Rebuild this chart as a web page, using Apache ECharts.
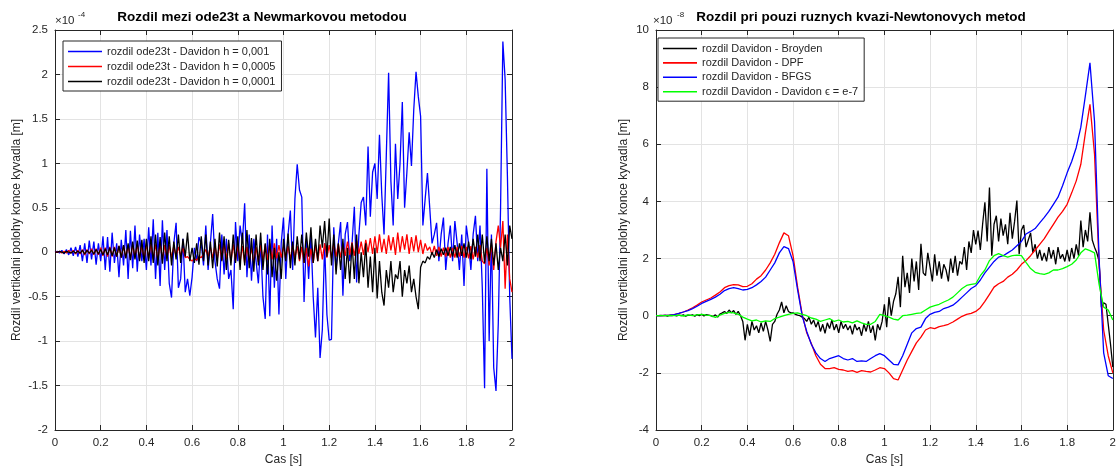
<!DOCTYPE html>
<html>
<head>
<meta charset="utf-8">
<script src="https://cdn.jsdelivr.net/npm/echarts@6/dist/echarts.min.js"></script>
<style>html,body{margin:0;padding:0;background:#fff}#c{width:1119px;height:468px}</style>
</head>
<body>
<div id="c"></div>
<script>
// time axes
const tFine = [0,0.01,0.02,0.03,0.04,0.05,0.06,0.07,0.08,0.09,0.1,0.11,0.12,0.13,0.14,0.15,0.16,0.17,0.18,0.19,0.2,0.21,0.22,0.23,0.24,0.25,0.26,0.27,0.28,0.29,0.3,0.31,0.32,0.33,0.34,0.35,0.36,0.37,0.38,0.39,0.4,0.41,0.42,0.43,0.44,0.45,0.46,0.47,0.48,0.49,0.5,0.51,0.52,0.53,0.54,0.55,0.56,0.57,0.58,0.59,0.6,0.61,0.62,0.63,0.64,0.65,0.66,0.67,0.68,0.69,0.7,0.71,0.72,0.73,0.74,0.75,0.76,0.77,0.78,0.79,0.8,0.81,0.82,0.83,0.84,0.85,0.86,0.87,0.88,0.89,0.9,0.91,0.92,0.93,0.94,0.95,0.96,0.97,0.98,0.99,1,1.01,1.02,1.03,1.04,1.05,1.06,1.07,1.08,1.09,1.1,1.11,1.12,1.13,1.14,1.15,1.16,1.17,1.18,1.19,1.2,1.21,1.22,1.23,1.24,1.25,1.26,1.27,1.28,1.29,1.3,1.31,1.32,1.33,1.34,1.35,1.36,1.37,1.38,1.39,1.4,1.41,1.42,1.43,1.44,1.45,1.46,1.47,1.48,1.49,1.5,1.51,1.52,1.53,1.54,1.55,1.56,1.57,1.58,1.59,1.6,1.61,1.62,1.63,1.64,1.65,1.66,1.67,1.68,1.69,1.7,1.71,1.72,1.73,1.74,1.75,1.76,1.77,1.78,1.79,1.8,1.81,1.82,1.83,1.84,1.85,1.86,1.87,1.88,1.89,1.9,1.91,1.92,1.93,1.94,1.95,1.96,1.97,1.98,1.99,2];
const tCoarse = [0,0.02,0.04,0.06,0.08,0.1,0.12,0.14,0.16,0.18,0.2,0.22,0.24,0.26,0.28,0.3,0.32,0.34,0.36,0.38,0.4,0.42,0.44,0.46,0.48,0.5,0.52,0.54,0.56,0.58,0.6,0.62,0.64,0.66,0.68,0.7,0.72,0.74,0.76,0.78,0.8,0.82,0.84,0.86,0.88,0.9,0.92,0.94,0.96,0.98,1,1.02,1.04,1.06,1.08,1.1,1.12,1.14,1.16,1.18,1.2,1.22,1.24,1.26,1.28,1.3,1.32,1.34,1.36,1.38,1.4,1.42,1.44,1.46,1.48,1.5,1.52,1.54,1.56,1.58,1.6,1.62,1.64,1.66,1.68,1.7,1.72,1.74,1.76,1.78,1.8,1.82,1.84,1.86,1.88,1.9,1.92,1.94,1.96,1.98,2];

// left chart (x1e-4)
const leftBlue = [
0,0.01,-0.01,0.02,-0.02,0.03,-0.03,0.05,-0.04,0.06,
-0.05,0.08,-0.1,0.1,-0.12,0.13,-0.08,0.12,-0.14,0.1,
-0.1,0.18,-0.2,0.17,-0.22,0.22,-0.12,0.1,-0.28,0.14,
-0.15,0.25,-0.3,0.24,-0.18,0.3,-0.22,0.2,-0.1,0.15,
-0.2,0.28,-0.15,0.37,-0.3,0.22,-0.38,0.36,-0.2,0.25,
-0.35,-0.51,0.1,0.33,-0.4,-0.3,0.15,-0.45,-0.3,-0.49,
-0.28,0.05,-0.1,0.17,0.1,-0.15,0.3,-0.2,0.1,0.43,
-0.1,-0.3,-0.41,0.2,-0.25,0.15,-0.3,-0.2,-0.64,0.34,
-0.1,0.3,0.1,0.55,-0.28,0.2,-0.32,0.15,-0.1,-0.35,
0.1,-0.5,-0.75,0.2,-0.72,0.3,-0.4,0.15,-0.7,0.1,
0.39,-0.3,0.2,0.47,-0.2,0.6,0.99,0.7,0.62,-0.56,
0.15,-0.3,0.2,-0.5,-0.96,-0.4,-1.19,-0.87,0.1,-0.7,
-0.99,-0.98,0.28,-0.2,0.1,0.34,-0.49,0.2,0.34,-0.1,
0.1,0.51,-0.34,0.2,0.56,0.62,0.3,1.19,0.4,0.9,
1.0,0.6,1.32,0.65,0.2,1.1,2.02,0.8,0.3,1.22,
0.6,1.0,1.69,0.5,0.9,1.35,0.97,1.6,2.03,1.75,
1.53,0.3,0.6,0.89,0.5,0.1,0.2,0.33,-0.1,0.2,
0.39,-0.2,0.1,0.3,-0.1,0.35,0.1,-0.2,0.2,-0.38,
0.3,0.1,-0.2,0.2,0.41,-0.1,0.3,-0.4,-1.53,0.94,
-1.0,0.2,-1.3,-1.56,-0.8,0.5,2.37,1.94,0.85,-0.5,
-1.2];
const leftRed = [
0,0,0.01,-0.01,0.01,-0.01,0.02,-0.01,0.02,-0.02,
0.02,-0.02,0.03,-0.03,0.03,-0.02,0.04,-0.03,0.04,-0.03,
0.05,-0.04,0.05,-0.05,0.06,-0.05,0.06,-0.05,0.07,-0.06,
0.07,-0.06,0.08,-0.07,0.08,-0.06,0.09,-0.07,0.08,-0.08,
0.09,-0.07,0.1,-0.08,0.09,-0.09,0.1,-0.08,0.08,-0.07,
0.08,-0.06,0.07,-0.05,0.06,-0.04,0.05,-0.06,-0.05,-0.08,
-0.1,-0.07,-0.09,-0.05,-0.06,-0.02,0.03,-0.05,0.06,-0.07,
0.08,-0.08,0.09,-0.09,0.1,-0.08,0.1,-0.1,0.09,-0.1,
0.08,-0.11,0.07,-0.12,0.06,-0.1,0.05,-0.12,0.06,-0.11,
0.08,-0.1,0.09,-0.09,0.1,-0.08,0.1,-0.07,0.08,-0.06,
0.06,-0.07,0.07,-0.08,0.08,-0.06,0.07,-0.1,0.06,-0.12,
0.05,-0.16,0.04,-0.12,0.08,-0.1,0.09,-0.08,0.1,-0.06,
0.08,-0.07,0.1,-0.05,0.09,-0.06,0.1,-0.04,0.12,-0.03,
0.11,-0.04,0.13,-0.02,0.12,-0.03,0.14,0.0,0.16,-0.02,
0.18,-0.01,0.2,0.0,0.15,-0.02,0.19,0.02,0.17,-0.03,
0.22,0.0,0.18,0.03,0.2,-0.02,0.17,0.01,0.19,0.0,
0.14,-0.02,0.1,0.02,0.06,-0.03,0.07,-0.04,0.06,-0.05,
0.05,-0.05,0.06,-0.06,0.05,-0.06,0.06,-0.05,0.07,-0.06,
0.06,-0.07,0.07,-0.08,0.06,-0.06,0.08,-0.1,-0.13,0.05,
-0.15,0.1,-0.2,0.12,0.3,0.05,0.35,-0.41,0.2,-0.3,
-0.45];
const leftBlack = [
0,0,0.01,0,-0.01,0.01,0,-0.01,0.01,-0.01,
0.01,-0.01,0.02,-0.02,0.02,-0.01,0.02,-0.02,0.03,-0.02,
0.03,-0.03,0.04,-0.03,0.05,-0.04,0.05,-0.05,0.07,-0.06,
0.08,-0.07,0.1,-0.09,0.12,-0.08,0.13,-0.1,0.14,-0.12,
0.15,-0.1,0.18,-0.12,0.2,-0.15,0.17,-0.13,0.22,-0.1,
0.18,-0.15,0.12,-0.08,0.2,-0.12,0.15,-0.05,0.22,-0.1,
0.05,-0.12,0.1,-0.14,0.18,-0.1,0.2,-0.15,0.12,-0.18,
0.15,-0.16,0.22,-0.1,0.18,-0.2,0.14,-0.15,0.2,-0.12,
0.18,-0.2,0.22,-0.15,0.25,-0.18,0.16,-0.22,0.2,-0.15,
0.22,-0.2,0.1,-0.25,0.15,-0.28,0.05,-0.32,0.0,-0.3,
0.15,-0.1,0.21,-0.18,0.12,-0.15,0.18,-0.08,0.2,-0.12,
0.22,-0.05,0.28,-0.12,0.15,-0.1,0.3,0.05,0.35,-0.05,
0.38,-0.15,0.2,-0.25,0.1,-0.2,0.15,-0.3,0.05,-0.35,
0.1,-0.3,0.2,-0.35,0.0,-0.28,0.1,-0.4,-0.05,-0.45,
0.05,-0.52,-0.1,-0.45,-0.6,-0.2,-0.4,-0.1,-0.45,-0.25,
-0.3,-0.1,-0.5,-0.2,-0.35,-0.15,-0.45,-0.3,-0.5,-0.64,
-0.17,-0.1,-0.12,-0.05,-0.08,0.0,-0.06,0.03,-0.05,0.04,
-0.03,0.05,-0.04,0.06,-0.05,0.08,-0.06,0.1,-0.04,0.1,
-0.06,0.12,-0.08,0.15,-0.05,0.2,-0.1,0.2,-0.12,0.18,
-0.1,0.15,-0.15,0.1,-0.2,0.05,-0.1,0.2,-0.15,0.3,
0.15];

// right chart (x1e-8)
const rightBroyden = [
0,0,0.01,0,0.01,-0.01,0.01,0,0.02,-0.01,
0.02,0,0.03,-0.02,0.02,0.01,0.03,-0.02,0.04,0.0,
0.05,-0.01,0.04,0.02,0.0,-0.03,0.03,-0.05,0.06,0.1,
0.15,0.08,0.2,0.1,0.18,0.05,0.15,0.0,-0.2,-0.86,
-0.3,-0.7,-0.2,-0.5,-0.35,-0.6,-0.25,-0.55,-0.2,-0.5,
-0.9,-0.3,-0.2,0.05,0.2,0.48,0.1,0.35,0.15,0.1,
0.1,0.05,0.02,0.0,-0.05,-0.1,-0.2,-0.05,-0.3,-0.15,
-0.4,-0.2,-0.55,-0.3,-0.62,-0.25,-0.45,-0.15,-0.5,-0.3,
-0.6,-0.2,-0.45,-0.3,-0.5,-0.35,-0.65,-0.3,-0.5,-0.4,
-0.7,-0.3,-0.55,-0.2,-0.6,-0.35,-0.86,-0.3,-0.5,-0.2,
0.4,-0.4,0.65,0.0,0.5,0.77,1.36,0.3,2.1,1.0,
1.5,0.8,2.0,1.2,1.9,0.9,2.52,1.5,1.4,2.2,
1.7,1.2,2.15,1.4,1.9,1.3,1.8,1.6,1.2,2.0,
1.5,2.1,1.4,1.9,1.8,2.4,1.6,2.6,2.2,3.0,
2.5,2.98,2.3,3.2,3.97,2.6,4.49,2.1,3.2,3.5,
2.6,3.4,2.8,3.2,2.5,3.6,2.7,3.3,4.03,2.15,
3.0,3.17,2.4,2.65,2.9,2.2,2.5,2.0,2.3,1.93,
2.2,1.9,2.4,2.0,2.3,1.8,2.4,2.0,2.15,1.9,
2.3,1.9,2.37,2.0,2.5,2.1,3.33,2.4,3.0,2.6,
3.62,2.65,2.4,2.2,1.9,0.3,0.45,0.4,-0.3,-1.0,
-1.8];
const rightDPF = [
0,0,0.01,0.02,0.04,0.08,0.13,0.2,0.28,0.37,
0.48,0.55,0.62,0.72,0.83,0.98,1.05,1.09,1.08,1.02,
1.03,1.12,1.28,1.4,1.6,1.85,2.15,2.55,2.9,2.8,
2.1,1.0,0.05,-0.6,-0.97,-1.4,-1.7,-1.85,-1.85,-1.82,
-1.88,-1.9,-1.95,-1.92,-1.98,-1.92,-1.95,-1.97,-1.9,-1.82,
-1.85,-2.0,-2.2,-2.25,-1.9,-1.55,-1.25,-0.95,-0.75,-0.5,
-0.42,-0.45,-0.38,-0.35,-0.3,-0.22,-0.12,-0.02,0.05,0.08,
0.15,0.28,0.5,0.75,1.0,1.12,1.2,1.35,1.45,1.6,
1.8,1.93,2.1,2.3,2.5,2.7,2.95,3.2,3.45,3.65,
3.9,4.3,4.72,5.3,6.4,7.4,5.65,1.8,-0.5,-1.4,
-2.0];
const rightBFGS = [
0,0,0.01,0.02,0.04,0.08,0.13,0.18,0.25,0.33,
0.43,0.5,0.57,0.65,0.75,0.88,0.95,0.98,0.95,0.9,
0.92,0.98,1.08,1.2,1.35,1.6,1.85,2.2,2.42,2.35,
1.9,0.9,0.0,-0.55,-1.0,-1.3,-1.5,-1.6,-1.5,-1.45,
-1.4,-1.5,-1.55,-1.5,-1.6,-1.58,-1.6,-1.5,-1.4,-1.33,
-1.4,-1.55,-1.7,-1.72,-1.4,-1.0,-0.6,-0.45,-0.4,-0.1,
0.05,0.12,0.15,0.25,0.3,0.37,0.5,0.65,0.8,0.95,
1.05,1.25,1.5,1.7,1.9,2.05,2.1,2.2,2.3,2.45,
2.6,2.86,2.95,3.05,3.25,3.44,3.65,3.9,4.15,4.55,
5.0,5.4,5.89,6.6,7.7,8.85,6.8,2.0,-1.3,-2.1,
-2.2];
const rightDavidon = [
0,0,0,0.01,0.0,0.02,-0.01,0.03,0.0,0.03,
0.05,0.02,0.0,-0.06,0.02,0.08,0.12,0.1,0.05,-0.05,
-0.12,-0.18,-0.15,-0.22,-0.18,-0.2,-0.1,-0.05,0.0,0.05,
0.08,0.1,0.05,0.0,-0.08,-0.12,-0.2,-0.15,-0.1,-0.2,
-0.15,-0.22,-0.2,-0.25,-0.18,-0.25,-0.3,-0.3,-0.2,0.05,
0.0,-0.05,-0.12,-0.15,0.0,0.02,0.05,0.08,0.1,0.2,
0.3,0.35,0.4,0.48,0.55,0.65,0.8,0.95,1.06,1.1,
1.12,1.4,1.6,1.93,2.1,2.17,2.1,2.05,2.1,2.12,
2.1,1.87,1.65,1.52,1.47,1.45,1.5,1.6,1.6,1.65,
1.72,1.8,1.95,2.2,2.34,2.28,2.2,1.1,0.3,0.2,
-0.15];

const xTicks = [0, 2, 0.2];
const leftY = [-2, 2.5, 0.5];
const rightY = [-4, 10, 2];

const txt = '#262626';
const font = 'Liberation Sans, Arial, Helvetica, sans-serif';
function pairs(t, v){ return t.map((x,i)=>[x, v[i]]); }

const grids = [
  {left:55, top:30, width:457, height:400},
  {left:656, top:30, width:457, height:400}
];
function xAx(gi, pos, show){
  return {type:'value', gridIndex:gi, position:pos, min:xTicks[0], max:xTicks[1], interval:xTicks[2],
    axisLine:{show:true, onZero:false, lineStyle:{color:txt, width:1}},
    axisTick:{show:true, inside:true, length:5, lineStyle:{color:txt}},
    axisLabel:{show:show, color:txt, fontSize:11.5, fontFamily:font, margin:7},
    splitLine:{show:show, lineStyle:{color:'#e3e3e3', width:1}}};
}
function yAx(gi, pos, show, r){
  return {type:'value', gridIndex:gi, position:pos, min:r[0], max:r[1], interval:r[2],
    axisLine:{show:true, onZero:false, lineStyle:{color:txt, width:1}},
    axisTick:{show:true, inside:true, length:5, lineStyle:{color:txt}},
    axisLabel:{show:show, color:txt, fontSize:11.5, fontFamily:font, margin:7},
    splitLine:{show:show, lineStyle:{color:'#e3e3e3', width:1}},
    name: show ? 'Rozdil vertikalni polohy konce kyvadla [m]' : '', nameLocation:'middle', nameGap: gi===0 ? 32 : 26,
    nameTextStyle:{color:txt, fontSize:12, fontFamily:font}};
}
function ln(name, xi, yi, data, color){
  return {name, type:'line', xAxisIndex:xi, yAxisIndex:yi, data, symbol:'none', showSymbol:false,
    lineStyle:{color, width:1.3}, itemStyle:{color}, animation:false, z:2};
}
const option = {
  animation:false,
  backgroundColor:'#fff',
  grid: grids,
  xAxis:[xAx(0,'bottom',true), xAx(0,'top',false), xAx(1,'bottom',true), xAx(1,'top',false)],
  yAxis:[yAx(0,'left',true,leftY), yAx(0,'right',false,leftY), yAx(1,'left',true,rightY), yAx(1,'right',false,rightY)],
  legend:[
    {left:63, top:41, orient:'vertical', icon:'rect', itemWidth:34, itemHeight:1.6, itemGap:2, padding:[4,6,3,5],
     backgroundColor:'#fff', borderColor:txt, borderWidth:1,
     textStyle:{color:txt, fontSize:11, fontFamily:font, lineHeight:13},
     data:['rozdil ode23t - Davidon h = 0,001','rozdil ode23t - Davidon h = 0,0005','rozdil ode23t - Davidon h = 0,0001']},
    {left:658, top:38, orient:'vertical', icon:'rect', itemWidth:34, itemHeight:1.6, itemGap:1.4, padding:[4,6,3,5],
     backgroundColor:'#fff', borderColor:txt, borderWidth:1,
     textStyle:{color:txt, fontSize:11, fontFamily:font, lineHeight:13},
     data:['rozdil Davidon - Broyden','rozdil Davidon - DPF','rozdil Davidon - BFGS','rozdil Davidon - Davidon \u03F5 = e-7']}
  ],
  graphic:[
    {type:'text', x:262, y:17, style:{text:'Rozdil mezi ode23t a Newmarkovou metodou', fill:'#000', font:'bold 13.5px '+font, textAlign:'center', textVerticalAlign:'middle'}},
    {type:'text', x:861, y:17, style:{text:'Rozdil pri pouzi ruznych kvazi-Newtonovych metod', fill:'#000', font:'bold 13.5px '+font, textAlign:'center', textVerticalAlign:'middle'}},
    {type:'text', x:55, y:21, style:{text:'\u00D710', fill:txt, font:'11.5px '+font, textAlign:'left', textVerticalAlign:'middle'}},
    {type:'text', x:78, y:15, style:{text:'-4', fill:txt, font:'8px '+font, textAlign:'left', textVerticalAlign:'middle'}},
    {type:'text', x:653, y:21, style:{text:'\u00D710', fill:txt, font:'11.5px '+font, textAlign:'left', textVerticalAlign:'middle'}},
    {type:'text', x:677, y:15, style:{text:'-8', fill:txt, font:'8px '+font, textAlign:'left', textVerticalAlign:'middle'}},
    {type:'text', x:283.5, y:460, style:{text:'Cas [s]', fill:txt, font:'12px '+font, textAlign:'center', textVerticalAlign:'middle'}},
    {type:'text', x:884.5, y:460, style:{text:'Cas [s]', fill:txt, font:'12px '+font, textAlign:'center', textVerticalAlign:'middle'}}
  ],
  series:[
    ln('rozdil ode23t - Davidon h = 0,001',0,0,pairs(tFine,leftBlue),'#0000ff'),
    ln('rozdil ode23t - Davidon h = 0,0005',0,0,pairs(tFine,leftRed),'#ff0000'),
    ln('rozdil ode23t - Davidon h = 0,0001',0,0,pairs(tFine,leftBlack),'#000000'),
    ln('rozdil Davidon - Broyden',2,2,pairs(tFine,rightBroyden),'#000000'),
    ln('rozdil Davidon - DPF',2,2,pairs(tCoarse,rightDPF),'#ff0000'),
    ln('rozdil Davidon - BFGS',2,2,pairs(tCoarse,rightBFGS),'#0000ff'),
    ln('rozdil Davidon - Davidon \u03F5 = e-7',2,2,pairs(tCoarse,rightDavidon),'#00ff00')
  ]
};
const chart = echarts.init(document.getElementById('c'), null, {renderer:'canvas'});
chart.setOption(option);
</script>
</body>
</html>
